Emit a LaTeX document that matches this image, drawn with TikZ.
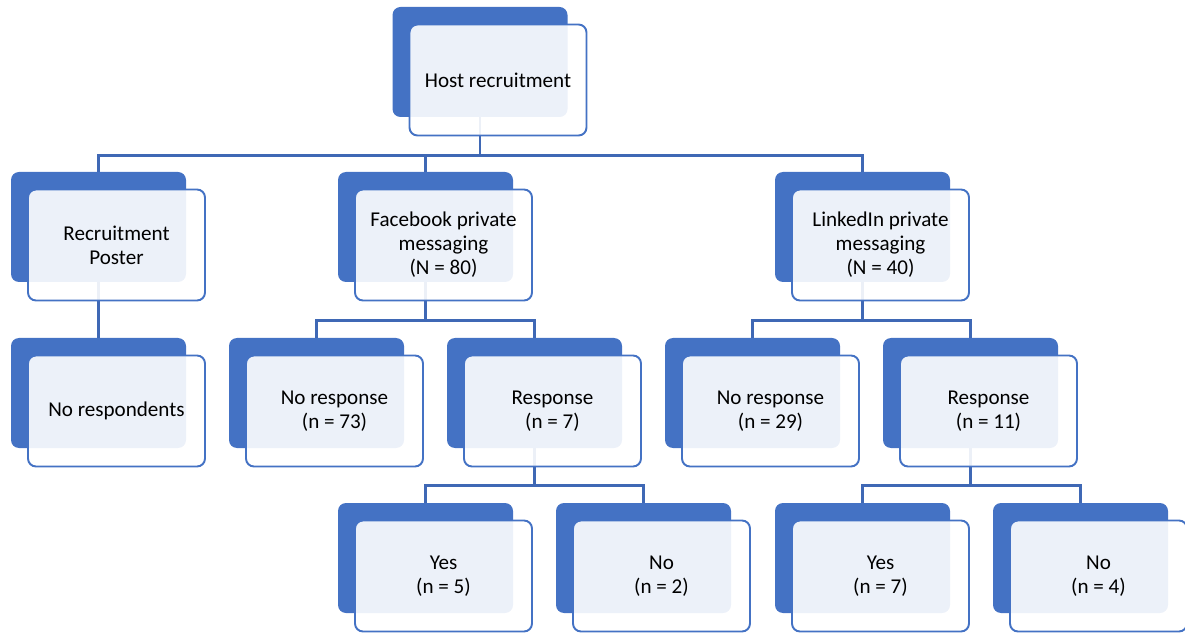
\documentclass[tikz,border=0pt]{standalone}
\usepackage{fontspec}
\setmainfont{Carlito}
\usepackage{tikz}
\usetikzlibrary{positioning, backgrounds}

\definecolor{boxblue}{HTML}{4472C4}
\definecolor{lineblue}{HTML}{3F68B5}

\begin{document}
\begin{tikzpicture}[
    backbox/.style={rectangle, rounded corners=0.16cm, fill=boxblue, draw=none, minimum width=3.5cm, minimum height=2.2cm},
    frontbox/.style={rectangle, rounded corners=0.16cm, draw=boxblue, line width=1.1pt, fill=white, fill opacity=0.9, text opacity=1, minimum width=3.54cm, minimum height=2.22cm, align=center, font=\fontsize{12}{13.7}\selectfont, xshift=0.36cm, yshift=-0.36cm},
    conn/.style={draw=lineblue, line width=1.4pt}
]
\useasboundingbox (0,0) rectangle (23.7,-12.68);

% Top
\node[backbox] (hostb) at (9.6,-1.24) {};
\node[frontbox] (host) at (hostb) {Host recruitment};

% Channels
\node[backbox] (posterb) at (1.97,-4.54) {};
\node[frontbox] (poster) at (posterb) {Recruitment\\Poster};
\node[backbox] (fbb) at (8.51,-4.54) {};
\node[frontbox] (fb) at (fbb) {Facebook private\\messaging\\(N = 80)};
\node[backbox] (lib) at (17.25,-4.54) {};
\node[frontbox] (li) at (lib) {LinkedIn private\\messaging\\(N = 40)};

% Responses
\node[backbox] (nonerespb) at (1.97,-7.86) {};
\node[frontbox] (noneresp) at (nonerespb) {No respondents};
\node[backbox] (fbnob) at (6.33,-7.86) {};
\node[frontbox] (fbno) at (fbnob) {No response\\(n = 73)};
\node[backbox] (fbyesb) at (10.69,-7.86) {};
\node[frontbox] (fbyes) at (fbyesb) {Response\\(n = 7)};
\node[backbox] (linob) at (15.05,-7.86) {};
\node[frontbox] (lino) at (linob) {No response\\(n = 29)};
\node[backbox] (liyesb) at (19.41,-7.86) {};
\node[frontbox] (liyes) at (liyesb) {Response\\(n = 11)};

% Answers
\node[backbox] (fbyyb) at (8.51,-11.16) {};
\node[frontbox] (fbyy) at (fbyyb) {Yes\\(n = 5)};
\node[backbox] (fbynb) at (12.87,-11.16) {};
\node[frontbox] (fbyn) at (fbynb) {No\\(n = 2)};
\node[backbox] (liyyb) at (17.25,-11.16) {};
\node[frontbox] (liyy) at (liyyb) {Yes\\(n = 7)};
\node[backbox] (liynb) at (21.61,-11.16) {};
\node[frontbox] (liyn) at (liynb) {No\\(n = 4)};

% Connectors
\begin{scope}[on background layer]
\draw[conn] (hostb.south) -- ++(0,-0.76) -| (posterb.north);
\draw[conn] (hostb.south) -- ++(0,-0.76) -| (fbb.north);
\draw[conn] (hostb.south) -- ++(0,-0.76) -| (lib.north);
\draw[conn] (posterb.south) -- (nonerespb.north);
\draw[conn] (fbb.south) -- ++(0,-0.76) -| (fbnob.north);
\draw[conn] (fbb.south) -- ++(0,-0.76) -| (fbyesb.north);
\draw[conn] (lib.south) -- ++(0,-0.76) -| (linob.north);
\draw[conn] (lib.south) -- ++(0,-0.76) -| (liyesb.north);
\draw[conn] (fbyesb.south) -- ++(0,-0.74) -| (fbyyb.north);
\draw[conn] (fbyesb.south) -- ++(0,-0.74) -| (fbynb.north);
\draw[conn] (liyesb.south) -- ++(0,-0.74) -| (liyyb.north);
\draw[conn] (liyesb.south) -- ++(0,-0.74) -| (liynb.north);
\end{scope}

\end{tikzpicture}
\end{document}
